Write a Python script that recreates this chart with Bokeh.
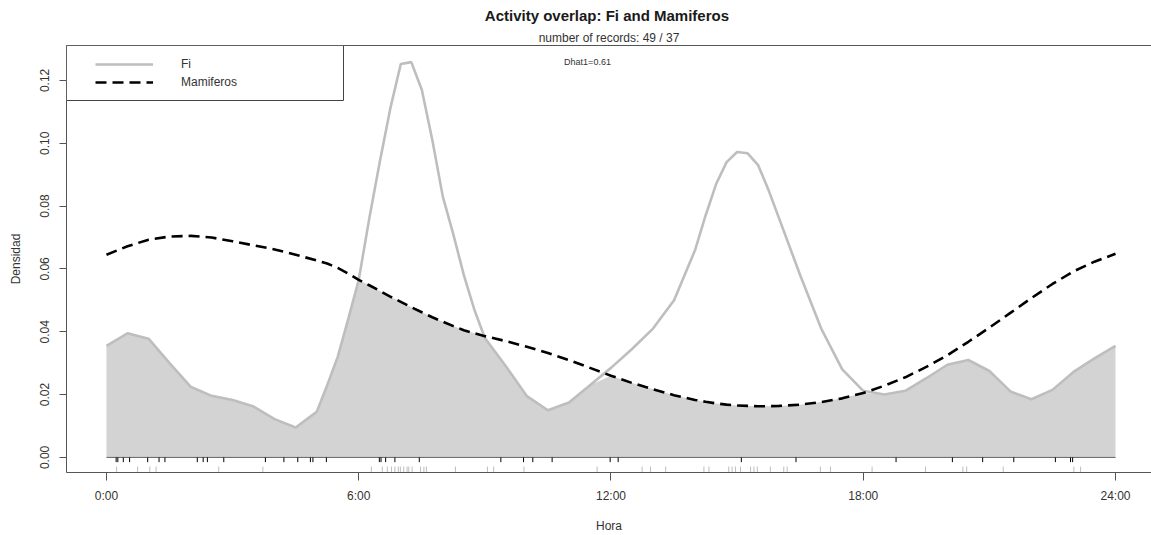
import numpy as np
from bokeh.plotting import figure
from bokeh.models import (Range1d, FixedTicker, LinearAxis, Label, Legend, LegendItem,
                          BoxAnnotation, NumeralTickFormatter, Title)
from bokeh.embed import file_html
from bokeh.resources import INLINE

# ---- data ----
hours = [0.0, 0.5, 1.0, 1.5, 2.0, 2.5, 3.0, 3.5, 4.0, 4.5, 5.0, 5.25, 5.5, 5.75,
         6.0, 6.25, 6.5, 6.75, 7.0, 7.25, 7.5, 7.75, 8.0, 8.25, 8.5, 8.75, 9.0,
         9.5, 10.0, 10.5, 11.0, 11.5, 12.0, 12.5, 13.0, 13.5, 14.0, 14.25, 14.5,
         14.75, 15.0, 15.25, 15.5, 15.75, 16.0, 16.5, 17.0, 17.5, 18.0, 18.5,
         19.0, 19.5, 20.0, 20.5, 21.0, 21.5, 22.0, 22.5, 23.0, 23.5, 24.0]

fi_density = [0.0355, 0.0395, 0.0378, 0.0300, 0.0225, 0.0196, 0.0183, 0.0162,
              0.0122, 0.0095, 0.0145, 0.0230, 0.0320, 0.0440, 0.0565, 0.0760,
              0.0940, 0.1110, 0.1252, 0.1258, 0.1170, 0.1010, 0.0830, 0.0710,
              0.0580, 0.0470, 0.0380, 0.0290, 0.0195, 0.0150, 0.0175, 0.0230,
              0.0285, 0.0345, 0.0410, 0.0500, 0.0660, 0.0770, 0.0870, 0.0940,
              0.0972, 0.0968, 0.0930, 0.0850, 0.0760, 0.0580, 0.0410, 0.0280,
              0.0212, 0.0200, 0.0212, 0.0252, 0.0295, 0.0310, 0.0275, 0.0210,
              0.0185, 0.0215, 0.0272, 0.0315, 0.0355]

mam_density = [0.0645, 0.0672, 0.0693, 0.0703, 0.0705, 0.0700, 0.0688, 0.0675,
               0.0662, 0.0645, 0.0627, 0.0617, 0.0603, 0.0585, 0.0565, 0.0548,
               0.0530, 0.0512, 0.0495, 0.0478, 0.0462, 0.0446, 0.0432, 0.0418,
               0.0405, 0.0395, 0.0386, 0.0370, 0.0352, 0.0332, 0.0310, 0.0285,
               0.0260, 0.0237, 0.0217, 0.0198, 0.0183, 0.0177, 0.0172, 0.0168,
               0.0165, 0.0164, 0.0163, 0.0163, 0.0164, 0.0168, 0.0176, 0.0188,
               0.0205, 0.0228, 0.0255, 0.0288, 0.0325, 0.0368, 0.0413, 0.0460,
               0.0507, 0.0552, 0.0592, 0.0623, 0.0648]

fi_times = [0.24, 0.74, 1.03, 1.18, 2.67, 3.72,
            6.30, 6.56, 6.68, 6.78, 6.86, 6.94, 6.99, 7.07, 7.15, 7.19, 7.27, 7.47, 7.55, 7.61,
            8.30, 9.06, 9.21, 9.93, 11.67,
            12.74, 12.94, 13.30, 14.21, 14.33, 14.80, 14.88, 14.96, 15.08, 15.32, 15.40,
            15.48, 15.79, 16.11, 16.19, 16.98, 17.22,
            18.21, 19.48, 20.37, 20.46, 21.33, 23.01, 23.17]

mam_times = [0.23, 0.27, 0.40, 0.55, 0.98, 1.25, 1.39, 2.16, 2.30, 2.40, 2.79, 3.78,
             4.22, 4.55, 4.85, 4.91, 5.23, 6.49, 6.53, 6.64, 6.86, 7.44,
             9.38, 9.92, 10.14, 10.60, 11.98, 12.17, 15.10, 16.40,
             18.78, 20.12, 20.84, 21.58, 22.57, 22.93, 22.98]

x_ticks = [0, 6, 12, 18, 24]
x_tick_labels = ["0:00", "6:00", "12:00", "18:00", "24:00"]
y_ticks = [0.0, 0.02, 0.04, 0.06, 0.08, 0.10, 0.12]

series_names = ["Fi", "Mamiferos"]
title_text = "Activity overlap:  Fi and Mamiferos"
subtitle_text = "number of records: 49 / 37"
dhat_text = "Dhat1=0.61"

FONT = "Liberation Sans"
TXT = "#333333"
AX = "#555555"

x_lo, x_hi = -0.951, 24.856
y_lo, y_hi = -0.0048, 0.1311

p = figure(width=1151, height=535, output_backend="svg", toolbar_location=None,
           x_range=Range1d(x_lo, x_hi), y_range=Range1d(y_lo, y_hi),
           min_border_left=66, min_border_right=0, min_border_top=45,
           min_border_bottom=62, x_axis_label="Hora", y_axis_label="Densidad")
p.title = None
p.outline_line_color = None
p.grid.visible = False
p.background_fill_color = "white"
p.border_fill_color = "white"

overlap = np.minimum(np.array(fi_density), np.array(mam_density))
p.varea(x=hours, y1=0, y2=overlap, fill_color="#D3D3D3", fill_alpha=1)

# baseline of the density area
p.line([hours[0], hours[-1]], [0, 0], line_color="#666666", line_width=1)

fi_line = p.line(hours, fi_density, line_color="#BEBEBE", line_width=2.6)
mam_line = p.line(hours, mam_density, line_color="black", line_width=2.6,
                  line_dash="11 6")

# rugs
p.segment(x0=mam_times, x1=mam_times, y0=[0] * len(mam_times),
          y1=[-0.0015] * len(mam_times), line_color="black", line_width=1)
p.segment(x0=fi_times, x1=fi_times, y0=[y_lo] * len(fi_times),
          y1=[y_lo + 0.0019] * len(fi_times), line_color="#BEBEBE", line_width=1)

# axes
xa = p.xaxis[0]
xa.ticker = FixedTicker(ticks=x_ticks)
xa.major_label_overrides = {t: l for t, l in zip(x_ticks, x_tick_labels)}
ya = p.yaxis[0]
ya.ticker = FixedTicker(ticks=y_ticks)
ya.formatter = NumeralTickFormatter(format="0.00")
ya.major_label_orientation = "vertical"

for ax in (xa, ya):
    ax.axis_line_color = AX
    ax.major_tick_line_color = AX
    ax.minor_tick_line_color = None
    ax.major_tick_in = 0
    ax.major_label_text_font = FONT
    ax.major_label_text_font_size = "12px"
    ax.major_label_text_color = TXT
    ax.axis_label_text_font = FONT
    ax.axis_label_text_font_size = "12px"
    ax.axis_label_text_font_style = "normal"
    ax.axis_label_text_color = TXT

xa.major_tick_out = 8
xa.major_label_standoff = 8
xa.axis_label_standoff = 13
ya.major_tick_out = 7
ya.major_label_standoff = 10
ya.axis_label_standoff = 15

top_axis = LinearAxis(ticker=FixedTicker(ticks=[]), axis_line_color=AX,
                      major_tick_line_color=None, minor_tick_line_color=None,
                      major_label_text_font_size="0px")
p.add_layout(top_axis, "above")

# titles (first added sits nearest the frame)
p.add_layout(Title(text=subtitle_text, align="center", text_font=FONT,
                   text_font_size="12px", text_font_style="normal",
                   text_color=TXT, standoff=1), "above")
p.add_layout(Title(text=title_text, align="center", text_font=FONT,
                   text_font_size="15px", text_font_style="bold",
                   text_color="#1a1a1a", standoff=9), "above")

# legend box + legend
box = BoxAnnotation(left=0, right=277, top=427, bottom=372,
                    left_units="screen", right_units="screen",
                    top_units="screen", bottom_units="screen",
                    fill_color="white", fill_alpha=1, line_color="#444444",
                    line_width=1, line_alpha=1)
p.add_layout(box)

legend = Legend(items=[LegendItem(label=series_names[0], renderers=[fi_line]),
                       LegendItem(label=series_names[1], renderers=[mam_line])],
                location=(29, 381), padding=0, margin=0, spacing=0,
                glyph_width=58, glyph_height=18, label_height=18,
                label_standoff=28, border_line_color=None,
                background_fill_alpha=0, label_text_font=FONT,
                label_text_font_size="12px", label_text_color=TXT)
p.add_layout(legend)

p.add_layout(Label(x=521, y=411, x_units="screen", y_units="screen",
                   text=dhat_text, text_align="center", text_baseline="middle",
                   text_font=FONT, text_font_size="9px", text_color=TXT))

open("out.html", "w").write(file_html(p, INLINE))
